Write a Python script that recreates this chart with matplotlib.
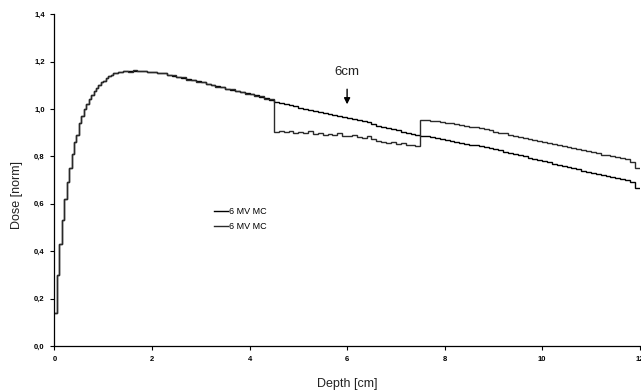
import numpy as np
import matplotlib
matplotlib.use("Agg")
import matplotlib.pyplot as plt

plt.rcParams['font.family'] = ['Liberation Sans', 'DejaVu Sans']

# depth bin edges (cm): fine bins in build-up, coarser afterwards
edges = np.round(np.concatenate([np.arange(0.0, 1.5, 0.05), np.arange(1.5, 12.0001, 0.1)]), 3)

buildup = [0.14, 0.30, 0.43, 0.53, 0.62, 0.69, 0.75, 0.81, 0.86, 0.89,
           0.94, 0.97, 1.00, 1.02, 1.04, 1.06, 1.075, 1.09, 1.10, 1.115,
           1.12, 1.13, 1.14, 1.145, 1.15, 1.15, 1.155, 1.155, 1.16, 1.16]

dose_a_tail = [1.160, 1.161, 1.162, 1.159, 1.158,
               1.155, 1.152, 1.150, 1.145, 1.140,
               1.136, 1.131, 1.127, 1.122, 1.117,
               1.112, 1.106, 1.101, 1.096, 1.091,
               1.086, 1.081, 1.076, 1.071, 1.067,
               1.062, 1.057, 1.051, 1.045, 1.038,
               1.031, 1.026, 1.021, 1.016, 1.011,
               1.006, 1.001, 0.996, 0.991, 0.987,
               0.982, 0.978, 0.974, 0.970, 0.966,
               0.962, 0.958, 0.954, 0.950, 0.945,
               0.936, 0.929, 0.925, 0.920, 0.915,
               0.910, 0.905, 0.900, 0.896, 0.891,
               0.888, 0.884, 0.880, 0.876, 0.872,
               0.869, 0.865, 0.861, 0.857, 0.853,
               0.850, 0.847, 0.843, 0.839, 0.835,
               0.830, 0.825, 0.820, 0.815, 0.810,
               0.805, 0.800, 0.795, 0.789, 0.785,
               0.780, 0.775, 0.770, 0.765, 0.760,
               0.755, 0.750, 0.745, 0.740, 0.735,
               0.730, 0.727, 0.722, 0.718, 0.713,
               0.709, 0.705, 0.700, 0.690, 0.665]

dose_b_tail = [1.158, 1.163, 1.160, 1.161, 1.156,
               1.157, 1.150, 1.153, 1.143, 1.142,
               1.134, 1.133, 1.124, 1.124, 1.115,
               1.114, 1.104, 1.103, 1.094, 1.093,
               1.084, 1.083, 1.074, 1.073, 1.064,
               1.064, 1.055, 1.053, 1.042, 1.040,
               0.905, 0.908, 0.902, 0.906, 0.899,
               0.902, 0.897, 0.906, 0.894, 0.898,
               0.892, 0.895, 0.889, 0.898, 0.887,
               0.884, 0.890, 0.882, 0.879, 0.887,
               0.872, 0.866, 0.862, 0.857, 0.860,
               0.853, 0.856, 0.850, 0.847, 0.845,
               0.955, 0.953, 0.950, 0.948, 0.945,
               0.942, 0.940, 0.937, 0.933, 0.930,
               0.926, 0.922, 0.918, 0.914, 0.910,
               0.905, 0.900, 0.897, 0.892, 0.888,
               0.883, 0.878, 0.874, 0.870, 0.867,
               0.862, 0.858, 0.853, 0.848, 0.844,
               0.840, 0.835, 0.830, 0.826, 0.822,
               0.818, 0.813, 0.808, 0.804, 0.800,
               0.796, 0.792, 0.788, 0.775, 0.750]

dose_a = buildup + dose_a_tail
dose_b = buildup + dose_b_tail

labels = ["6 MV MC", "6 MV MC"]
yticks = [0.0, 0.2, 0.4, 0.6, 0.8, 1.0, 1.2, 1.4]
ytick_labels = ["0,0", "0,2", "0,4", "0,6", "0,8", "1,0", "1,2", "1,4"]
xticks = [0, 2, 4, 6, 8, 10, 12]
xtick_labels = ["0", "2", "4", "6", "8", "10", "12"]

fig = plt.figure(figsize=(6.41, 3.92), dpi=100)
ax = fig.add_axes([0.085, 0.117, 0.913, 0.847])

ax.stairs(dose_a, edges, color="black", lw=1.0, label=labels[0], baseline=None)
ax.stairs(dose_b, edges, color="#2a2a2a", lw=1.0, label=labels[1], baseline=None)

ax.set_xlim(0, 12)
ax.set_ylim(0, 1.4)
ax.set_yticks(yticks)
ax.set_yticklabels(ytick_labels, fontsize=5.5, fontweight="bold")
ax.set_xticks(xticks)
ax.set_xticklabels(xtick_labels, fontsize=5.5, fontweight="bold")
ax.tick_params(axis="both", direction="out", length=3, width=0.8, pad=4)
for s in ["top", "right"]:
    ax.spines[s].set_visible(False)
for s in ["left", "bottom"]:
    ax.spines[s].set_linewidth(0.9)

ax.set_ylabel("Dose [norm]", fontsize=9, color="#222222")
ax.yaxis.set_label_coords(-0.054, 0.455)
ax.set_xlabel("Depth [cm]", fontsize=9, color="#222222")
ax.xaxis.set_label_coords(0.5, -0.096)

ax.annotate("", xy=(6, 1.008), xytext=(6, 1.095),
            arrowprops=dict(arrowstyle="-|>", color="black", lw=1.0, mutation_scale=9))
ax.text(6, 1.155, "6cm", ha="center", va="center", fontsize=9.5, color="#222222")

ax.legend(loc="upper left", bbox_to_anchor=(0.272, 0.418), frameon=False,
          fontsize=6.5, handlelength=1.55, handletextpad=0.2, labelspacing=0.6,
          borderpad=0, borderaxespad=0)

fig.savefig("out.png", dpi=100)
